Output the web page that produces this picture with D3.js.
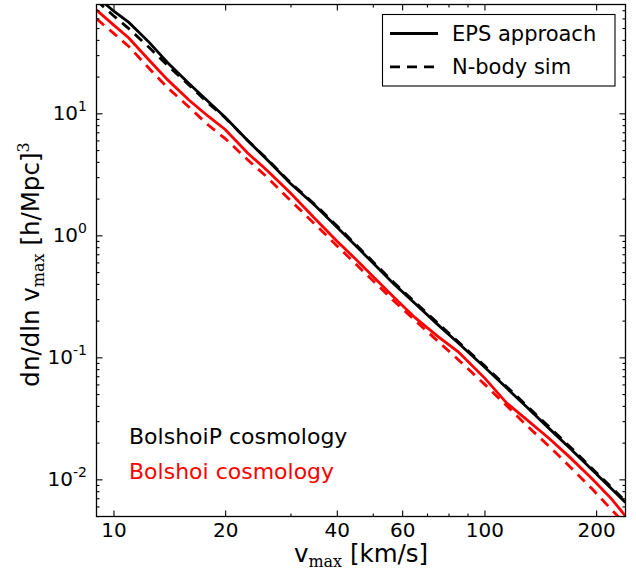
<!DOCTYPE html>
<html>
<head>
<meta charset="utf-8">
<script src="https://cdn.jsdelivr.net/npm/d3@7"></script>
<style>
  html, body { margin: 0; padding: 0; background: #fff; }
  svg text { font-family: "DejaVu Sans", sans-serif; }
</style>
</head>
<body>
<svg id="chart" width="636" height="574"></svg>
<script>
// Maximum circular velocity grid (km/s)
const vmax = [9, 10, 11, 12.5, 14, 16, 18, 20, 23, 26, 30, 35, 40, 45, 50, 57, 65, 75, 85, 100, 115, 130, 150, 170, 195, 220, 240];

// dn/dln vmax [(h/Mpc)^3] — BolshoiP cosmology
const bolshoiPEps   = [91, 69.0, 55.6, 38.0, 26.0, 17.5, 12.5, 9.3, 5.98, 4.14, 2.66, 1.75, 1.17, 0.820, 0.596, 0.400, 0.276, 0.1845, 0.131, 0.0832, 0.0557, 0.0392, 0.0258, 0.01795, 0.01197, 0.00838, 0.00647];
const bolshoiPNbody = [84.2, 63.1, 49.5, 34.5, 24.6, 17.0, 12.1, 9.2, 6.0, 4.2, 2.70, 1.78, 1.20, 0.84, 0.61, 0.41, 0.283, 0.190, 0.134, 0.0855, 0.0572, 0.0402, 0.0266, 0.0185, 0.0123, 0.0086, 0.0066];

// dn/dln vmax [(h/Mpc)^3] — Bolshoi cosmology
const bolshoiEps    = [70.3, 53.1, 41.4, 27.1, 18.8, 12.8, 9.47, 7.38, 4.73, 3.38, 2.22, 1.36, 0.898, 0.637, 0.463, 0.311, 0.2115, 0.148, 0.111, 0.0679, 0.0420, 0.0309, 0.0214, 0.01514, 0.01012, 0.00692, 0.0050];
const bolshoiNbody  = [59.6, 45.4, 35.3, 23.2, 16.2, 11.2, 8.02, 6.21, 4.16, 2.98, 1.93, 1.226, 0.823, 0.581, 0.4256, 0.290, 0.2007, 0.135, 0.0957, 0.0603, 0.0399, 0.0276, 0.01845, 0.01268, 0.00836, 0.00565, 0.0043];

// Axis ticks
const xMajor = [10, 20, 40, 60, 100, 200];
const xMinor = [30, 50, 70, 80, 90];
const yMajor = [0.01, 0.1, 1, 10];
const yExponents = ["-2", "-1", "0", "1"];
const yMinor = [];
[0.001, 0.01, 0.1, 1, 10].forEach(d => { for (let k = 2; k <= 9; k++) yMinor.push(d * k); });

const legendLabels = ["EPS approach", "N-body sim"];
const cosmologyLabels = ["BolshoiP cosmology", "Bolshoi cosmology"];
const colors = ["#000000", "#ff0000"];

const plot = { left: 96.5, right: 625.5, top: 4.5, bottom: 516.5 };

const svg = d3.select("#chart");

const x = d3.scaleLog().domain([9, 240]).range([plot.left, plot.right]);
const y = d3.scaleLog().domain([0.00496, 78]).range([plot.bottom, plot.top]);
const yMinorIn = yMinor.filter(v => v > y.domain()[0] && v < y.domain()[1]);

svg.append("defs").append("clipPath").attr("id", "clip")
  .append("rect")
  .attr("x", plot.left).attr("y", plot.top)
  .attr("width", plot.right - plot.left).attr("height", plot.bottom - plot.top);

// Data lines
const line = d3.line().x((d, i) => x(vmax[i])).y(d => y(d));
const series = [
  { values: bolshoiPEps,   color: colors[0], dash: null },
  { values: bolshoiPNbody, color: colors[0], dash: "10,7" },
  { values: bolshoiEps,    color: colors[1], dash: null },
  { values: bolshoiNbody,  color: colors[1], dash: "10,7" }
];
const gLines = svg.append("g").attr("clip-path", "url(#clip)");
series.forEach(s => {
  gLines.append("path")
    .attr("d", line(s.values))
    .attr("fill", "none")
    .attr("stroke", s.color)
    .attr("stroke-width", 2.8)
    .attr("stroke-dasharray", s.dash);
});

// Axes: inward ticks on all four sides
function styleAxis(g) {
  g.select(".domain").remove();
  g.selectAll(".tick line").attr("stroke", "#000").attr("stroke-width", 1.1);
}
const majLen = 6, minLen = 3;

svg.append("g").attr("transform", `translate(0,${plot.bottom})`)
  .call(d3.axisBottom(x).tickValues(xMajor).tickSize(-majLen).tickPadding(6).tickFormat(d3.format("d")))
  .call(styleAxis)
  .call(g => g.selectAll("text").attr("font-size", 20).attr("fill", "#000").attr("font-family", "DejaVu Sans"));
svg.append("g").attr("transform", `translate(0,${plot.bottom})`)
  .call(d3.axisBottom(x).tickValues(xMinor).tickSize(-minLen).tickFormat(""))
  .call(styleAxis);
svg.append("g").attr("transform", `translate(0,${plot.top})`)
  .call(d3.axisTop(x).tickValues(xMajor).tickSize(-majLen).tickFormat(""))
  .call(styleAxis);
svg.append("g").attr("transform", `translate(0,${plot.top})`)
  .call(d3.axisTop(x).tickValues(xMinor).tickSize(-minLen).tickFormat(""))
  .call(styleAxis);

svg.append("g").attr("transform", `translate(${plot.left},0)`)
  .call(d3.axisLeft(y).tickValues(yMajor).tickSize(-majLen).tickFormat(""))
  .call(styleAxis);
svg.append("g").attr("transform", `translate(${plot.left},0)`)
  .call(d3.axisLeft(y).tickValues(yMinorIn).tickSize(-minLen).tickFormat(""))
  .call(styleAxis);
svg.append("g").attr("transform", `translate(${plot.right},0)`)
  .call(d3.axisRight(y).tickValues(yMajor).tickSize(-majLen).tickFormat(""))
  .call(styleAxis);
svg.append("g").attr("transform", `translate(${plot.right},0)`)
  .call(d3.axisRight(y).tickValues(yMinorIn).tickSize(-minLen).tickFormat(""))
  .call(styleAxis);

// Y tick labels as powers of ten
yMajor.forEach((v, i) => {
  const t = svg.append("text")
    .attr("x", 87).attr("y", y(v) + 7)
    .attr("text-anchor", "end")
    .attr("font-size", 20).attr("fill", "#000");
  t.append("tspan").text("10");
  t.append("tspan").attr("font-size", 14).attr("dy", -9).text(yExponents[i]);
});

// Frame
svg.append("rect")
  .attr("x", plot.left).attr("y", plot.top)
  .attr("width", plot.right - plot.left).attr("height", plot.bottom - plot.top)
  .attr("fill", "none").attr("stroke", "#000").attr("stroke-width", 1.3);

// Axis labels
const xl = svg.append("text")
  .attr("x", (plot.left + plot.right) / 2).attr("y", 562)
  .attr("text-anchor", "middle").attr("font-size", 24.5).attr("fill", "#000");
xl.append("tspan").text("v");
xl.append("tspan").attr("font-family", "DejaVu Serif").attr("font-size", 16).attr("dy", 5).text("max");
xl.append("tspan").attr("dy", -5).text(" [km/s]");

const yl = svg.append("text")
  .attr("transform", `translate(39,${(plot.top + plot.bottom) / 2 + 4}) rotate(-90)`)
  .attr("text-anchor", "middle").attr("font-size", 24.5).attr("fill", "#000");
yl.append("tspan").text("dn/dln v");
yl.append("tspan").attr("font-family", "DejaVu Serif").attr("font-size", 16).attr("dy", 5).text("max");
yl.append("tspan").attr("dy", -5).text(" [h/Mpc]");
yl.append("tspan").attr("font-family", "DejaVu Serif").attr("font-size", 16).attr("dy", -10).text("3");

// Legend
const lg = svg.append("g");
lg.append("rect")
  .attr("x", 382.5).attr("y", 14.5).attr("width", 232.5).attr("height", 71.5)
  .attr("fill", "#fff").attr("stroke", "#000").attr("stroke-width", 1.1);
[null, "10,7"].forEach((dash, i) => {
  const yy = 33.5 + i * 33.3;
  lg.append("line")
    .attr("x1", 390).attr("x2", 438).attr("y1", yy).attr("y2", yy)
    .attr("stroke", "#000").attr("stroke-width", 2.8).attr("stroke-dasharray", dash);
  lg.append("text")
    .attr("x", 452).attr("y", yy + 7.5)
    .attr("font-size", 21).attr("fill", "#000")
    .text(legendLabels[i]);
});

// Cosmology annotations
cosmologyLabels.forEach((label, i) => {
  svg.append("text")
    .attr("x", 129).attr("y", 443.5 + i * 35)
    .attr("font-size", 22).attr("fill", colors[i])
    .text(label);
});
</script>
</body>
</html>
